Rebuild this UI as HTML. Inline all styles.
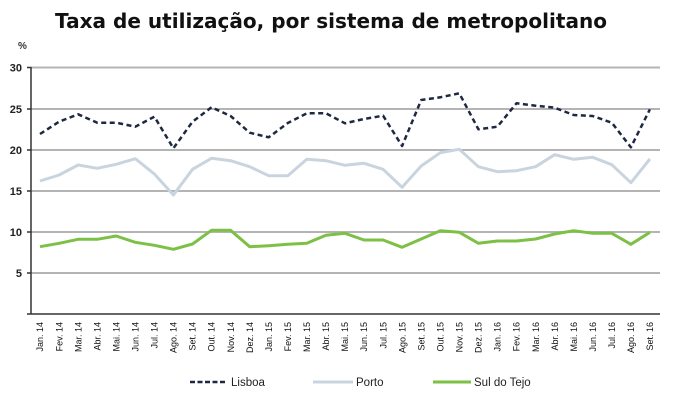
<!DOCTYPE html>
<html><head><meta charset="utf-8"><style>
html,body{margin:0;padding:0;background:#fff;}
svg{display:block;}
</style></head><body>
<svg width="680" height="405" viewBox="0 0 680 405" xmlns="http://www.w3.org/2000/svg">
<rect width="680" height="405" fill="#fff"/>
<text x="55" y="28" font-family="DejaVu Sans, Liberation Sans, sans-serif" font-weight="bold" font-size="20" fill="#111" textLength="552" lengthAdjust="spacingAndGlyphs">Taxa de utilização, por sistema de metropolitano</text>
<text x="18" y="49" font-family="Liberation Sans, sans-serif" font-weight="bold" font-size="10" fill="#333">%</text>
<g stroke="#b4b4b4" stroke-width="2">
<line x1="31" y1="67.5" x2="660" y2="67.5"/>
<line x1="31" y1="109" x2="660" y2="109"/>
<line x1="31" y1="150" x2="660" y2="150"/>
<line x1="31" y1="191" x2="660" y2="191"/>
<line x1="31" y1="232" x2="660" y2="232"/>
<line x1="31" y1="273" x2="660" y2="273"/>
</g>
<g stroke="#333" stroke-width="1.5">
<line x1="27" y1="67.5" x2="31" y2="67.5"/>
<line x1="27" y1="109" x2="31" y2="109"/>
<line x1="27" y1="150" x2="31" y2="150"/>
<line x1="27" y1="191" x2="31" y2="191"/>
<line x1="27" y1="232" x2="31" y2="232"/>
<line x1="27" y1="273" x2="31" y2="273"/>
<line x1="31" y1="67" x2="31" y2="314"/>
<line x1="27" y1="314" x2="660" y2="314"/>
</g>
<g font-family="Liberation Sans, sans-serif" font-weight="bold" font-size="11" fill="#222" text-anchor="end">
<text x="22" y="71.5">30</text>
<text x="22" y="113">25</text>
<text x="22" y="154">20</text>
<text x="22" y="195">15</text>
<text x="22" y="236">10</text>
<text x="22" y="277">5</text>
</g>
<polyline fill="none" stroke="#c9d4df" stroke-width="3" stroke-linejoin="round" points="40,181 59.1,175 78.1,165 97.2,168.3 116.2,164.3 135.3,158.7 154.4,174 173.4,195 192.5,169.3 211.5,158.3 230.6,160.7 249.7,166.7 268.7,175.7 287.8,175.7 306.8,159.3 325.9,160.7 345,165.3 364,163.3 383.1,169.3 402.1,187.3 421.2,166 440.3,152.7 459.3,149.3 478.4,166.7 497.4,171.7 516.5,170.7 535.6,166.7 554.6,154.7 573.7,159.3 592.7,157.3 611.8,164.7 630.9,182.7 649.9,159"/>
<polyline fill="none" stroke="#7cc146" stroke-width="3" stroke-linejoin="round" points="40,246.7 59.1,243.3 78.1,239.3 97.2,239.3 116.2,236 135.3,242.3 154.4,245.3 173.4,249.3 192.5,244 211.5,230.3 230.6,230.3 249.7,246.7 268.7,245.7 287.8,244.3 306.8,243.3 325.9,235.3 345,233.3 364,240 383.1,240 402.1,247.3 421.2,239 440.3,230.7 459.3,232.3 478.4,243.3 497.4,241 516.5,241 535.6,239 554.6,234 573.7,230.7 592.7,233.3 611.8,233.3 630.9,244.3 649.9,232.3"/>
<polyline fill="none" stroke="#1e2842" stroke-width="2.5" stroke-dasharray="5,3.5" stroke-linejoin="round" points="40,134 59.1,121.7 78.1,114.3 97.2,122.7 116.2,122.7 135.3,126.7 154.4,116.7 173.4,148.3 192.5,121.7 211.5,107.3 230.6,116 249.7,132.7 268.7,137.3 287.8,123 306.8,113.3 325.9,113.3 345,123.3 364,119 383.1,115.7 402.1,146 421.2,100 440.3,97.3 459.3,93.3 478.4,129.3 497.4,126.7 516.5,103.3 535.6,105.7 554.6,107.7 573.7,115 592.7,116 611.8,122.7 630.9,147.3 649.9,109.3"/>
<g font-family="Liberation Sans, sans-serif" font-size="9" fill="#111" text-anchor="end">
<text transform="translate(43.2,322) rotate(-90)">Jan. 14</text>
<text transform="translate(62.3,322) rotate(-90)">Fev. 14</text>
<text transform="translate(81.3,322) rotate(-90)">Mar. 14</text>
<text transform="translate(100.4,322) rotate(-90)">Abr. 14</text>
<text transform="translate(119.4,322) rotate(-90)">Mai. 14</text>
<text transform="translate(138.5,322) rotate(-90)">Jun. 14</text>
<text transform="translate(157.6,322) rotate(-90)">Jul. 14</text>
<text transform="translate(176.6,322) rotate(-90)">Ago. 14</text>
<text transform="translate(195.7,322) rotate(-90)">Set. 14</text>
<text transform="translate(214.7,322) rotate(-90)">Out. 14</text>
<text transform="translate(233.8,322) rotate(-90)">Nov. 14</text>
<text transform="translate(252.9,322) rotate(-90)">Dez. 14</text>
<text transform="translate(271.9,322) rotate(-90)">Jan. 15</text>
<text transform="translate(291,322) rotate(-90)">Fev. 15</text>
<text transform="translate(310,322) rotate(-90)">Mar. 15</text>
<text transform="translate(329.1,322) rotate(-90)">Abr. 15</text>
<text transform="translate(348.2,322) rotate(-90)">Mai. 15</text>
<text transform="translate(367.2,322) rotate(-90)">Jun. 15</text>
<text transform="translate(386.3,322) rotate(-90)">Jul. 15</text>
<text transform="translate(405.3,322) rotate(-90)">Ago. 15</text>
<text transform="translate(424.4,322) rotate(-90)">Set. 15</text>
<text transform="translate(443.5,322) rotate(-90)">Out. 15</text>
<text transform="translate(462.5,322) rotate(-90)">Nov. 15</text>
<text transform="translate(481.6,322) rotate(-90)">Dez. 15</text>
<text transform="translate(500.6,322) rotate(-90)">Jan. 16</text>
<text transform="translate(519.7,322) rotate(-90)">Fev. 16</text>
<text transform="translate(538.8,322) rotate(-90)">Mar. 16</text>
<text transform="translate(557.8,322) rotate(-90)">Abr. 16</text>
<text transform="translate(576.9,322) rotate(-90)">Mai. 16</text>
<text transform="translate(595.9,322) rotate(-90)">Jun. 16</text>
<text transform="translate(615,322) rotate(-90)">Jul. 16</text>
<text transform="translate(634.1,322) rotate(-90)">Ago. 16</text>
<text transform="translate(653.1,322) rotate(-90)">Set. 16</text>
</g>
<line x1="190" y1="382" x2="225" y2="382" stroke="#1e2842" stroke-width="2.5" stroke-dasharray="5,2.5"/>
<line x1="313" y1="382" x2="353" y2="382" stroke="#c9d4df" stroke-width="3"/>
<line x1="433" y1="382" x2="471" y2="382" stroke="#7cc146" stroke-width="3"/>
<g font-family="Liberation Sans, sans-serif" font-size="11.5" fill="#222">
<text x="231" y="386">Lisboa</text>
<text x="356" y="386">Porto</text>
<text x="474" y="386">Sul do Tejo</text>
</g>
</svg>
</body></html>
